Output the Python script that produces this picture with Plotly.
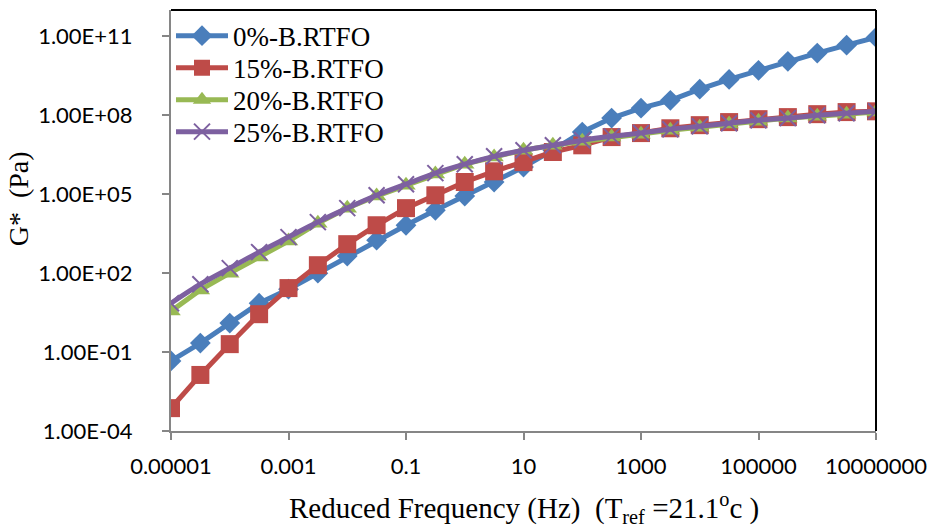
import plotly.graph_objects as go

# Reduced frequency (Hz), half-decade steps of the master curve
freq = [1e-5, 3.16e-5, 1e-4, 3.16e-4, 1e-3, 3.16e-3, 1e-2, 3.16e-2, 0.1, 0.316,
        1, 3.16, 10, 31.6, 100, 316, 1000, 3160, 1e4, 3.16e4,
        1e5, 3.16e5, 1e6, 3.16e6, 1e7]

# Complex shear modulus G* (Pa)
g_0 = [0.046, 0.22, 1.26, 7.2, 24.5, 100, 447, 1780, 6600, 24500,
       85000, 2.9e5, 1.07e6, 4.7e6, 2.3e7, 7.8e7, 1.86e8, 3.7e8, 9.8e8, 2.3e9,
       5.1e9, 1.12e10, 2.3e10, 4.6e10, 9.1e10]
g_15 = [7.4e-4, 0.0135, 0.20, 2.75, 27, 200, 1260, 6600, 29500, 91000,
        2.9e5, 7.4e5, 1.66e6, 4.0e6, 7.2e6, 1.48e7, 2.1e7, 3.2e7, 4.2e7, 5.5e7,
        7.1e7, 8.5e7, 1.1e8, 1.32e8, 1.41e8]
g_20 = [3.6, 23, 100, 410, 1660, 7900, 29500, 85000, 2.2e5, 5.8e5,
        1.38e6, 2.6e6, 4.7e6, 7.2e6, 1.02e7, 1.48e7, 1.9e7, 2.7e7, 3.5e7, 4.6e7,
        5.9e7, 7.8e7, 9.1e7, 1.1e8, 1.32e8]
g_25 = [7.2, 38, 155, 630, 2340, 8700, 29500, 91000, 2.4e5, 6.3e5,
        1.38e6, 2.75e6, 4.7e6, 7.2e6, 1.12e7, 1.58e7, 2.1e7, 2.95e7, 3.8e7, 5.0e7,
        6.5e7, 7.8e7, 1.0e8, 1.2e8, 1.41e8]

x_tick_vals = [1e-5, 1e-3, 1e-1, 10, 1000, 1e5, 1e7]
x_tick_text = ["0.00001", "0.001", "0.1", "10", "1000", "100000", "10000000"]
y_tick_vals = [1e-4, 1e-1, 1e2, 1e5, 1e8, 1e11]
y_tick_text = ["1.00E-04", "1.00E-01", "1.00E+02", "1.00E+05", "1.00E+08", "1.00E+11"]

BLUE, RED, GREEN, PURPLE = "#4A7EBB", "#BE4B48", "#98B954", "#7D60A0"
SERIF = "Liberation Serif, Times New Roman, serif"
TICKFONT = dict(family="Lato, Open Sans, sans-serif", size=22, color="#000000")

fig = go.Figure()
fig.add_trace(go.Scatter(
    x=freq, y=g_0, name="0%-B.RTFO", mode="lines+markers", legend="legend",
    line=dict(color=BLUE, width=5),
    marker=dict(symbol="diamond", size=16, color=BLUE)))
fig.add_trace(go.Scatter(
    x=freq, y=g_15, name="15%-B.RTFO", mode="lines+markers", legend="legend2",
    line=dict(color=RED, width=5),
    marker=dict(symbol="square", size=18, color=RED)))
fig.add_trace(go.Scatter(
    x=freq, y=g_20, name="20%-B.RTFO", mode="lines+markers", legend="legend3",
    line=dict(color=GREEN, width=5),
    marker=dict(symbol="triangle-up", size=17, color=GREEN)))
fig.add_trace(go.Scatter(
    x=freq, y=g_25, name="25%-B.RTFO", mode="lines+markers", legend="legend4",
    line=dict(color=PURPLE, width=5, shape="spline", smoothing=0.8),
    marker=dict(symbol="x-thin", size=16, color=PURPLE,
                line=dict(color=PURPLE, width=2))))

fig.update_xaxes(
    type="log", range=[-5, 7],
    tickvals=x_tick_vals, ticktext=x_tick_text,
    showline=True, linecolor="#868686", linewidth=2,
    ticks="outside", ticklen=7, tickwidth=2, tickcolor="#868686",
    ticklabelstandoff=8,
    showgrid=False, zeroline=False, tickfont=TICKFONT)
fig.update_yaxes(
    type="log", range=[-4, 12],
    tickvals=y_tick_vals, ticktext=y_tick_text,
    showline=True, linecolor="#868686", linewidth=2,
    ticks="outside", ticklen=7, tickwidth=2, tickcolor="#868686",
    ticklabelstandoff=25,
    showgrid=False, zeroline=False, tickfont=TICKFONT)

# Black frame on the top and right edges of the plot area
fig.add_shape(type="line", xref="paper", yref="paper", x0=0, x1=1, y0=1, y1=1,
              line=dict(color="#000000", width=2))
fig.add_shape(type="line", xref="paper", yref="paper", x0=1, x1=1, y0=0, y1=1,
              line=dict(color="#000000", width=2))

fig.add_annotation(
    text="Reduced Frequency (Hz)\u00a0\u00a0(T<sub>ref</sub> =21.1<sup>o</sup>c )",
    xref="paper", yref="paper", x=0.5, y=-0.183, yanchor="middle",
    showarrow=False, font=dict(family=SERIF, size=29, color="#000000"))
fig.add_annotation(
    text="G*\u00a0\u00a0(Pa)", textangle=-90,
    xref="paper", yref="paper", x=-0.216, y=0.552, xanchor="center", yanchor="middle",
    showarrow=False, font=dict(family=SERIF, size=28, color="#000000"))

# One single-entry legend per series, stacked in the upper-left corner
legend_style = dict(x=0.0, xanchor="left", yanchor="middle",
                    bgcolor="rgba(255,255,255,0)", borderwidth=0,
                    font=dict(family=SERIF, size=27, color="#000000"),
                    itemwidth=52)

fig.update_layout(
    width=937, height=529,
    margin=dict(l=171, r=58, t=10, b=98),
    paper_bgcolor="#FFFFFF", plot_bgcolor="#FFFFFF",
    showlegend=True,
    legend=dict(y=0.938, **legend_style),
    legend2=dict(y=0.862, **legend_style),
    legend3=dict(y=0.786, **legend_style),
    legend4=dict(y=0.710, **legend_style),
)

fig.write_html("out.html")
